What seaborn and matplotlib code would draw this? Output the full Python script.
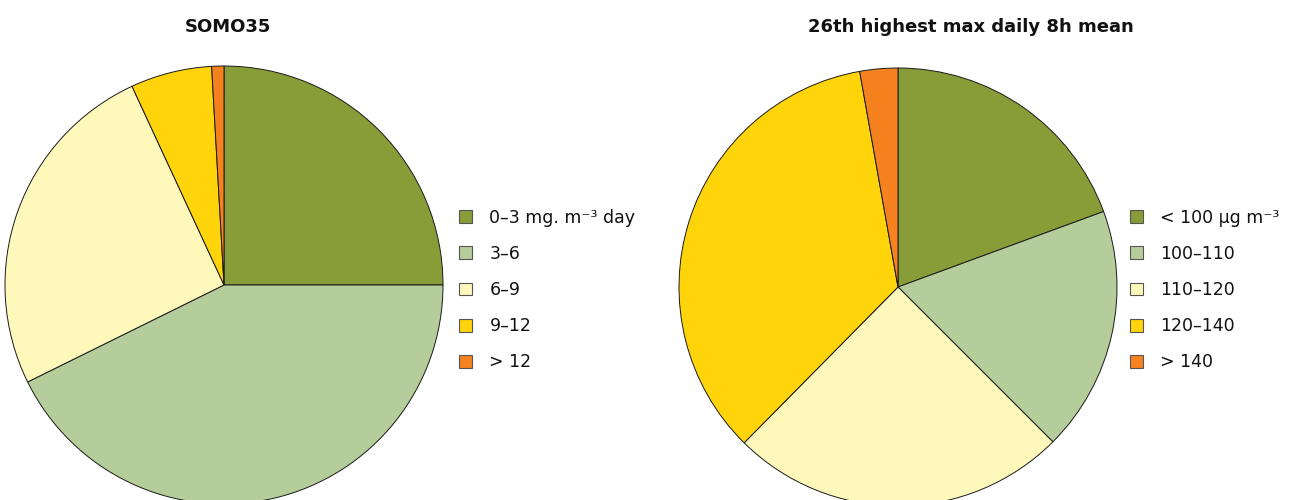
import matplotlib
matplotlib.use("Agg")
import matplotlib.pyplot as plt
import seaborn as sns

# ---------------------------------------------
#  DATA (shares in %)
# ---------------------------------------------
somo_labels = ["0–3 mg. m⁻³ day", "3–6", "6–9", "9–12", "> 12"]
somo_values = [25.0, 42.7, 25.4, 6.0, 0.9]

max8h_labels = ["< 100 µg m⁻³", "100–110", "110–120", "120–140", "> 140"]
max8h_values = [19.4, 18.1, 24.9, 34.8, 2.8]

titles = ["SOMO35", "26th highest max daily 8h mean"]

COLORS = ["#889C37", "#B5CD9A", "#FFF8BB", "#FFD40A", "#F5821F"]

sns.set_theme(style="white")
plt.rcParams.update({
    "font.family": ["DejaVu Sans"],
    "text.color": "#111111",
})

W, H = 1296, 500
fig = plt.figure(figsize=(W / 100, H / 100), dpi=100)
fig.patch.set_facecolor("white")

palette = sns.color_palette(COLORS)


def draw_pie(rect, values, labels, title, title_x, legend_x):
    ax = fig.add_axes(rect)
    wedges, _ = ax.pie(values, colors=palette, startangle=90, counterclock=False,
                       radius=1.0,
                       wedgeprops={"edgecolor": "#1a1a1a", "linewidth": 0.7})
    ax.set_xlim(-1.0, 1.0)
    ax.set_ylim(-1.0, 1.0)
    ax.set_aspect("equal")
    ax.axis("off")
    fig.text(title_x / W, 1 - 27 / H, title, ha="center", va="center",
             fontsize=13, fontweight="bold")
    leg = fig.legend(wedges, labels, loc="center left",
                     bbox_to_anchor=(legend_x / W, 1 - 290 / H),
                     frameon=False, fontsize=12.5, labelspacing=1.05,
                     handlelength=0.75, handleheight=0.75, handletextpad=1.0,
                     borderpad=0, borderaxespad=0)
    for h in leg.legend_handles:
        h.set_edgecolor("#555555")
        h.set_linewidth(0.8)
    return ax


draw_pie([5 / W, -4 / H, 438 / W, 438 / H], somo_values, somo_labels,
         titles[0], 228, 459)
draw_pie([679 / W, -6 / H, 438 / W, 438 / H], max8h_values, max8h_labels,
         titles[1], 971, 1130)

fig.savefig("out.png", dpi=100, facecolor="white")
